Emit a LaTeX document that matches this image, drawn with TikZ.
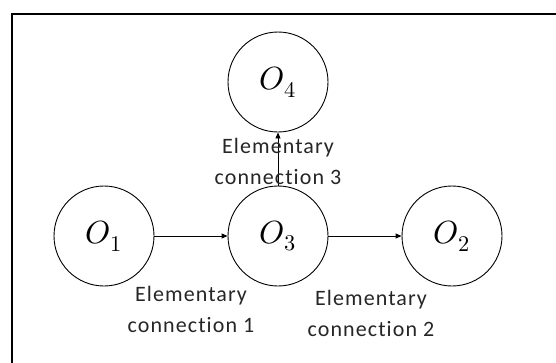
\documentclass[tikz,border=0pt]{standalone}
\usepackage{fontspec}
\usepackage{unicode-math}
\setmathfont{Latin Modern Math}
\newfontfamily\lblfont[LetterSpace=5,Ligatures={NoCommon,NoRare}]{Carlito}
\usetikzlibrary{arrows.meta}
\begin{document}
\begin{tikzpicture}[x=1pt,y=-1pt,
  obj/.style={circle, draw, line width=0.9pt, minimum size=100pt, inner sep=0pt,
              font=\fontsize{32}{32}\selectfont},
  lbl/.style={align=center, inner sep=0pt, anchor=north, text=black!85,
              font=\lblfont\fontsize{22}{31}\selectfont},
  link/.style={line width=0.9pt, -{Triangle[length=6pt,width=5pt]}}]
\useasboundingbox (0,0) rectangle (556,362);
\clip (0,0) rectangle (556,362);
% outer frame
\draw[line width=2pt] (12,14) rectangle (600,400);
% objects
\node[obj] (o1) at (104,236) {$O_1$};
\node[obj] (o3) at (278,236) {$O_3$};
\node[obj] (o2) at (452,236) {$O_2$};
\node[obj] (o4) at (278,82) {$O_4$};
% elementary connections
\draw[link] (o1) -- (o3);
\draw[link] (o3) -- (o2);
\draw[link] (o3) -- (o4);
\node[lbl] (l1) at (191,286) {Elementary\\connection 1};
\node[lbl] (l2) at (371,290) {Elementary\\connection 2};
\node[lbl] (l3) at (278,138) {Elementary\\connection 3};
\end{tikzpicture}
\end{document}
